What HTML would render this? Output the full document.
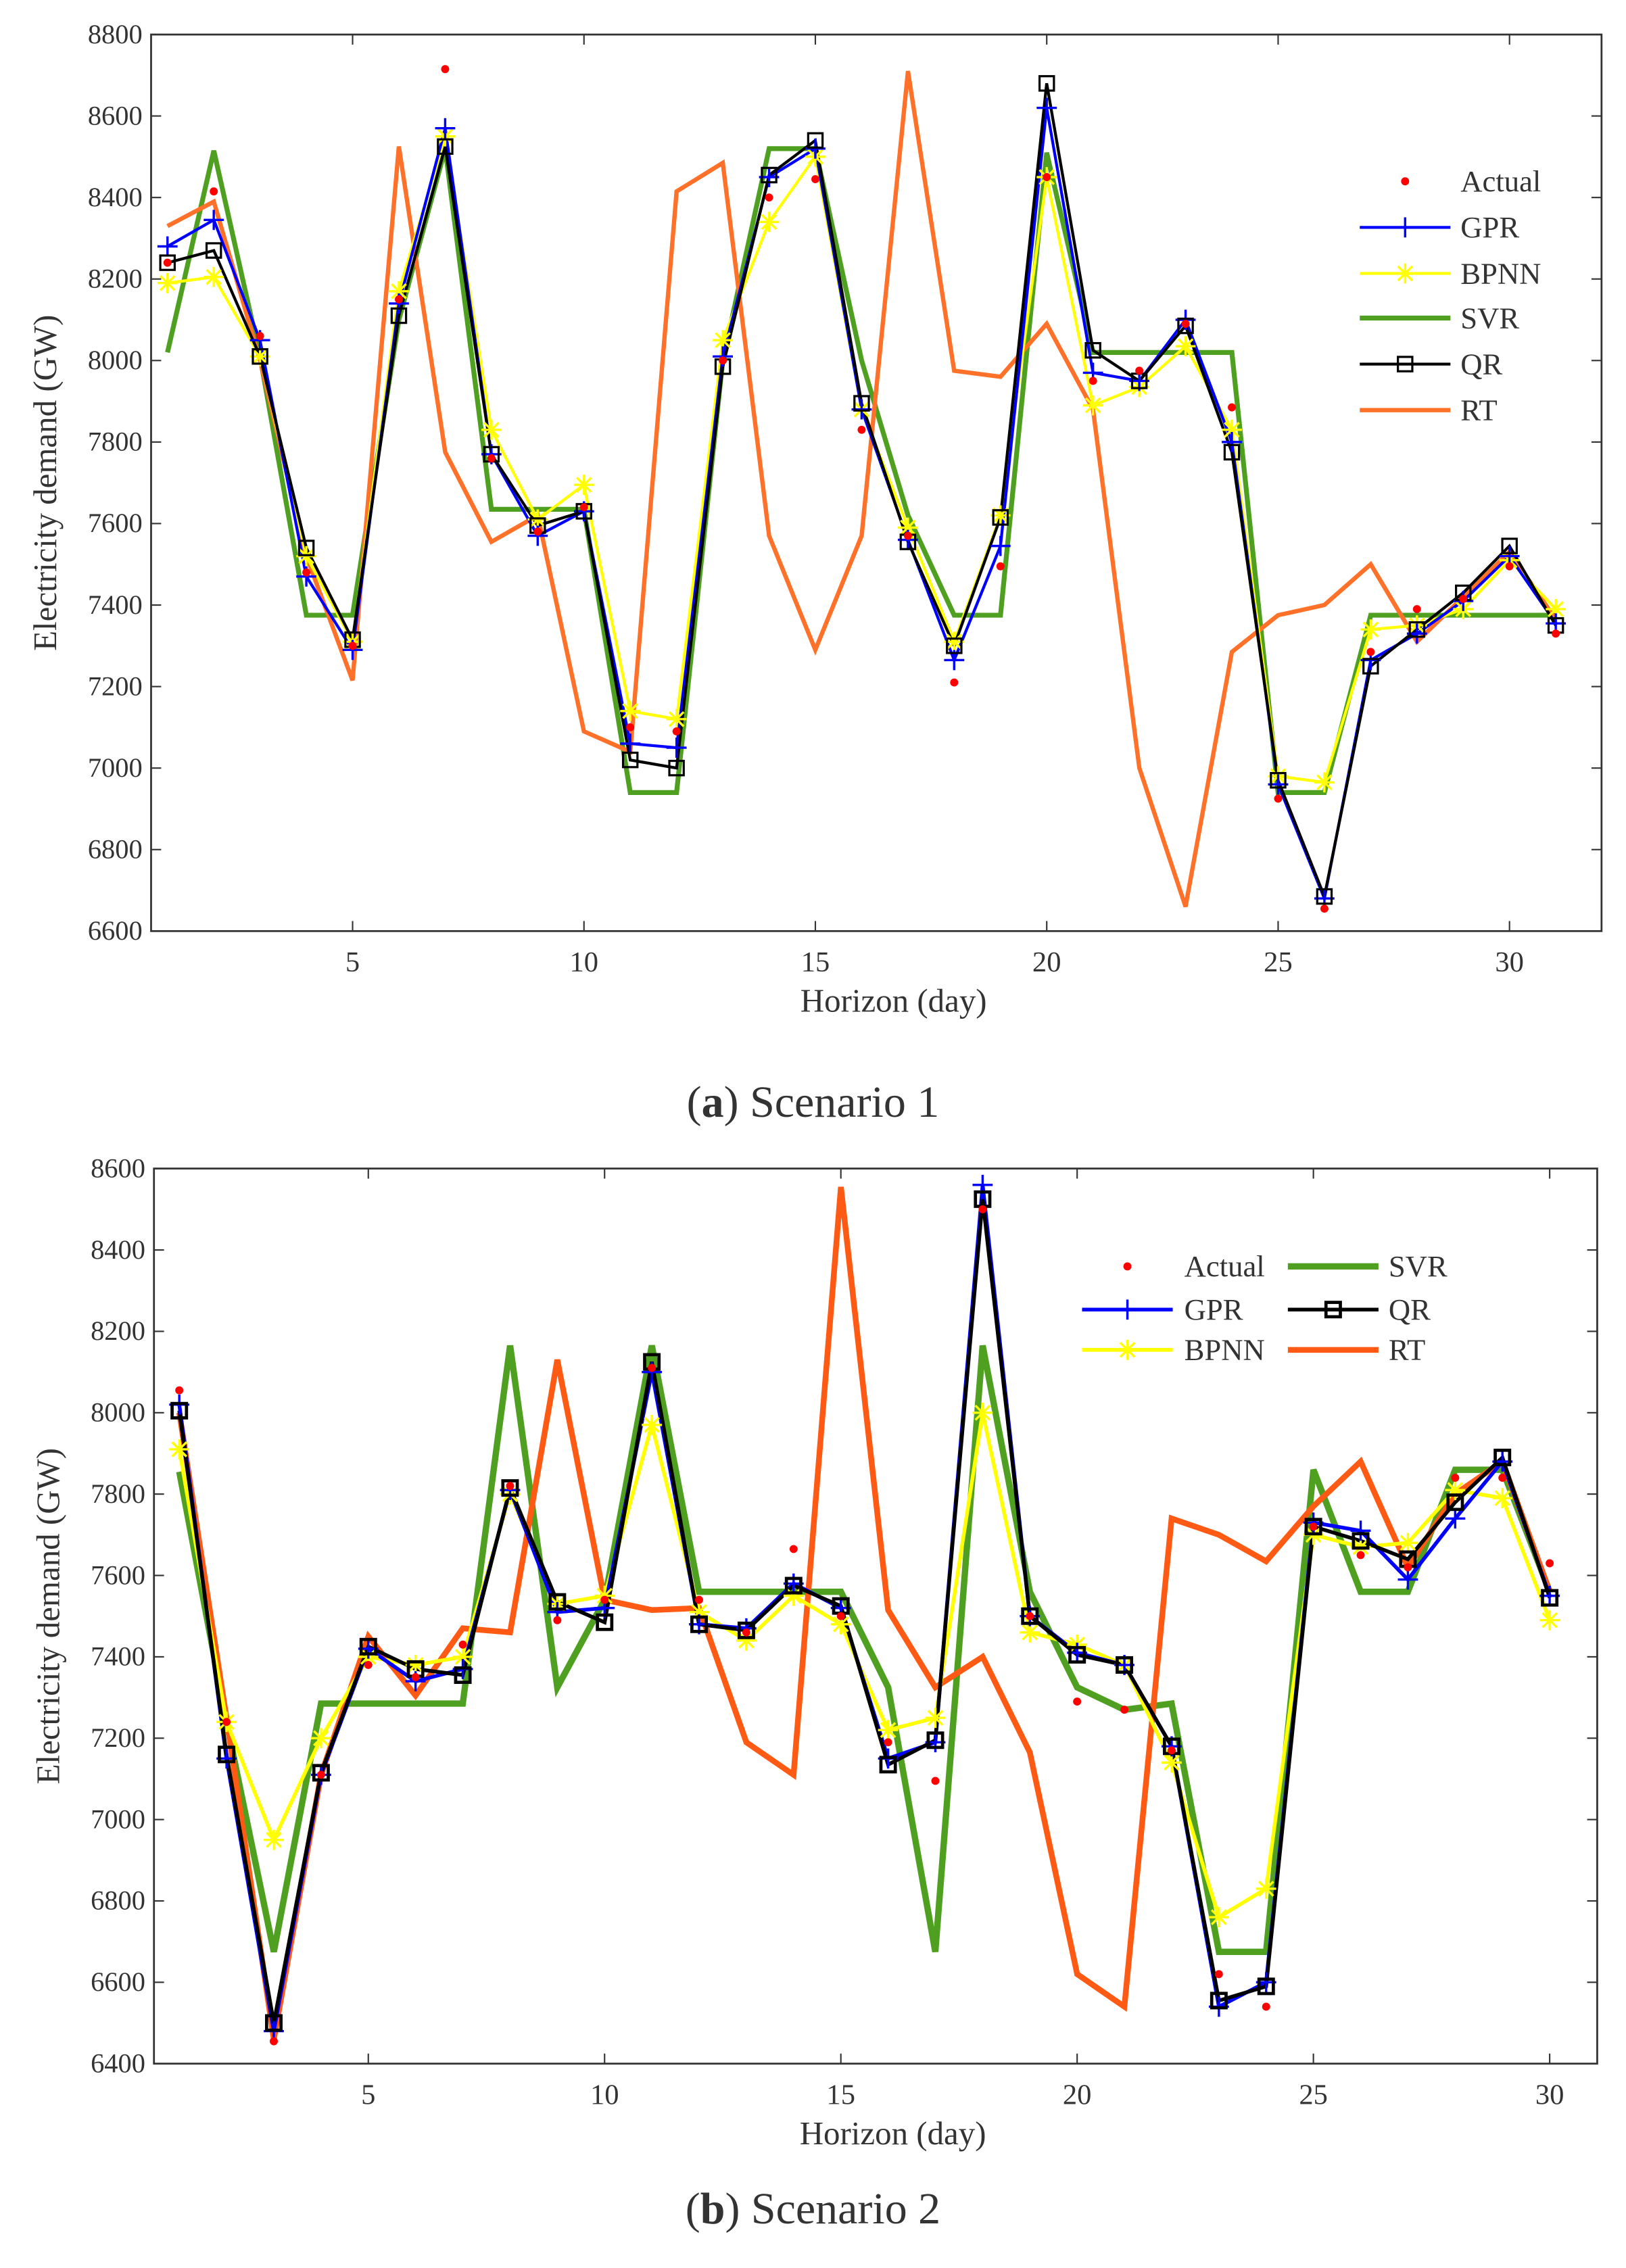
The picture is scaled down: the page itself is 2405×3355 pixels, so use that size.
<!DOCTYPE html>
<html><head><meta charset="utf-8">
<style>
html,body{margin:0;padding:0;background:#fff;}
svg{display:block;}
text{font-family:"Liberation Serif",serif;fill:#333;}
</style></head>
<body>
<svg id="s" width="2405" height="3355" viewBox="0 0 1130 1576" preserveAspectRatio="none" xmlns="http://www.w3.org/2000/svg"></svg>
<script>
const NS="http://www.w3.org/2000/svg";
const S=document.getElementById('s');
function el(t,a,txt){const e=document.createElementNS(NS,t);for(const k in a)e.setAttribute(k,a[k]);if(txt!==undefined)e.textContent=txt;S.appendChild(e);return e;}
function chart(c){
  const X=d=>c.x1+(d-1)*c.dx, Y=v=>c.yb-(v-c.ymin)*c.ky;
  el('rect',{x:c.L,y:c.T,width:c.R-c.L,height:c.B-c.T,fill:'none',stroke:'#333','stroke-width':1.3});
  for(let v=c.ymin;v<=c.ymax;v+=200){const y=Y(v);
    el('line',{x1:c.L,x2:c.L+7,y1:y,y2:y,stroke:'#333','stroke-width':1});
    el('line',{x1:c.R,x2:c.R-7,y1:y,y2:y,stroke:'#333','stroke-width':1});
    el('text',{x:c.L-6,y:y+6,'text-anchor':'end','font-size':19},v);}
  for(let d=5;d<=30;d+=5){const x=X(d);
    el('line',{x1:x,x2:x,y1:c.B,y2:c.B-7,stroke:'#333','stroke-width':1});
    el('line',{x1:x,x2:x,y1:c.T,y2:c.T+7,stroke:'#333','stroke-width':1});
    el('text',{x:x,y:c.B+28,'text-anchor':'middle','font-size':20},d);}
  el('text',{x:(c.L+c.R)/2+12,y:c.B+56,'text-anchor':'middle','font-size':23},'Horizon (day)');
  const cy=(c.T+c.B)/2;
  el('text',{x:0,y:0,'text-anchor':'middle','font-size':23,transform:`translate(${c.L-66},${cy}) rotate(-90)`},'Electricity demand (GW)');
  const pts=a=>a.map((v,i)=>X(i+1).toFixed(1)+','+Y(v).toFixed(1)).join(' ');
  const w=c.w;
  el('polyline',{points:pts(c.SVR),fill:'none',stroke:'#4fa021','stroke-width':w*1.7,'stroke-linejoin':'miter'});
  el('polyline',{points:pts(c.RT),fill:'none',stroke:c.rtc,'stroke-width':c.rtw});
  el('polyline',{points:pts(c.BPNN),fill:'none',stroke:'#ffff00','stroke-width':w});
  el('polyline',{points:pts(c.GPR),fill:'none',stroke:'#0000ff','stroke-width':w});
  el('polyline',{points:pts(c.QR),fill:'none',stroke:'#000','stroke-width':w});
  c.BPNN.forEach((v,i)=>star(X(i+1),Y(v)));
  c.GPR.forEach((v,i)=>plus(X(i+1),Y(v)));
  c.QR.forEach((v,i)=>sq(X(i+1),Y(v),c.sqw));
  c.A.forEach((v,i)=>el('circle',{cx:X(i+1),cy:Y(v),r:2.8,fill:'#ff0000'}));
}
function plus(x,y){el('path',{d:`M${x-7},${y}H${x+7}M${x},${y-7}V${y+7}`,stroke:'#0000ff','stroke-width':1.6});}
function star(x,y){el('path',{d:`M${x-7},${y}H${x+7}M${x},${y-7}V${y+7}M${x-5},${y-5}L${x+5},${y+5}M${x-5},${y+5}L${x+5},${y-5}`,stroke:'#ffff00','stroke-width':1.6});}
function sq(x,y,w){el('rect',{x:x-5,y:y-5,width:10,height:10,fill:'none',stroke:'#000','stroke-width':w||1.5});}

chart({L:105,R:1113,T:24,B:647,x1:116.4,dx:32.16,yb:647,ymin:6600,ymax:8800,ky:0.2832,w:2,rtw:3,rtc:'#ff7028',sqw:1.5,
A:[8240,8415,8060,7480,7300,8150,8715,7760,7580,7640,7100,7090,8000,8400,8445,7830,7570,7210,7495,8450,7950,7975,8090,7885,6925,6655,7285,7390,7415,7495,7330],
GPR:[8280,8345,8050,7470,7290,8140,8570,7770,7570,7630,7060,7050,8010,8450,8520,7880,7560,7265,7545,8620,7970,7950,8100,7800,6960,6680,7265,7330,7410,7520,7355],
BPNN:[8190,8205,8010,7520,7310,8170,8550,7830,7610,7695,7140,7120,8050,8340,8500,7880,7590,7310,7620,8450,7890,7935,8035,7830,6980,6965,7340,7350,7390,7510,7390],
SVR:[8020,8515,8010,7375,7375,8100,8520,7635,7635,7635,6940,6940,8000,8520,8520,8000,7620,7375,7375,8510,8020,8020,8020,8020,6940,6940,7375,7375,7375,7375,7375],
QR:[8240,8270,8010,7540,7315,8110,8525,7770,7595,7630,7020,7000,7985,8455,8540,7895,7555,7300,7615,8680,8025,7950,8085,7775,6970,6685,7250,7340,7430,7545,7350],
RT:[8330,8390,8000,7520,7215,8525,7775,7555,7620,7090,7040,8415,8485,7570,7290,7570,8710,7975,7960,8090,7880,7000,6660,7285,7375,7400,7500,7310,7420,7530,7365]});

chart({L:107,R:1110,T:812,B:1434,x1:124.6,dx:32.84,yb:1434,ymin:6400,ymax:8600,ky:0.2827,w:2.6,rtw:4,rtc:'#ff5a14',sqw:2.2,
A:[8055,7240,6455,7110,7380,7350,7430,7820,7490,7540,8110,7540,7460,7665,7500,7190,7095,8500,7500,7290,7270,7170,6620,6540,7720,7650,7620,7840,7840,7630],
GPR:[8020,7150,6480,7110,7420,7340,7370,7810,7510,7520,8100,7480,7470,7580,7520,7150,7190,8560,7500,7410,7380,7180,6540,6600,7730,7710,7590,7740,7880,7550],
BPNN:[7910,7240,6950,7200,7400,7380,7400,7800,7530,7550,7970,7510,7440,7550,7480,7220,7250,8000,7460,7430,7380,7140,6760,6830,7700,7670,7680,7810,7790,7490],
SVR:[7855,7240,6675,7285,7285,7285,7285,8165,7325,7540,8165,7560,7560,7560,7560,7325,6675,8165,7560,7325,7270,7285,6675,6675,7860,7560,7560,7860,7860,7560],
QR:[8005,7160,6500,7115,7425,7370,7355,7815,7535,7485,8125,7480,7465,7575,7525,7135,7195,8525,7500,7405,7380,7180,6555,6590,7720,7685,7640,7780,7890,7545],
RT:[8000,7250,6460,7110,7450,7305,7470,7460,8130,7540,7515,7520,7190,7110,8555,7515,7325,7400,7165,6620,6540,7740,7700,7635,7770,7880,7620,7800,7880,7560]});

function leg(x,y,type,lab,tx,w){
  const m=(x+x+63)/2;
  if(type==='A'){el('circle',{cx:m,cy:y,r:2.8,fill:'#ff0000'});}
  else{
    const col={GPR:'#0000ff',BPNN:'#ffff00',SVR:'#4fa021',QR:'#000',RT:w.rt}[type];
    el('line',{x1:x,x2:x+63,y1:y,y2:y,stroke:col,'stroke-width':type==='SVR'?w.w*1.7:(type==='RT'?w.rtw:w.w)});
    if(type==='GPR')plus(m,y); if(type==='BPNN')star(m,y); if(type==='QR')sq(m,y,w.sq);
  }
  el('text',{x:tx,y:y+7,'font-size':21},lab);
}
const wa={w:2,rtw:3,rt:'#ff7028',sq:1.5};
[['A','Actual',126],['GPR','GPR',158],['BPNN','BPNN',190],['SVR','SVR',221],['QR','QR',253],['RT','RT',285]].forEach(r=>leg(945,r[2],r[0],r[1],1015,wa));
const wb={w:2.6,rtw:4,rt:'#ff5a14',sq:2.2};
[['A','Actual',880],['GPR','GPR',910],['BPNN','BPNN',938]].forEach(r=>leg(752,r[2],r[0],r[1],823,wb));
[['SVR','SVR',880],['QR','QR',910],['RT','RT',938]].forEach(r=>leg(895,r[2],r[0],r[1],965,wb));

const t1=el('text',{x:565,y:776,'text-anchor':'middle','font-size':31});
t1.innerHTML='(<tspan font-weight="bold">a</tspan>) Scenario 1';
const t2=el('text',{x:565,y:1545,'text-anchor':'middle','font-size':31});
t2.innerHTML='(<tspan font-weight="bold">b</tspan>) Scenario 2';
</script>
</body></html>
